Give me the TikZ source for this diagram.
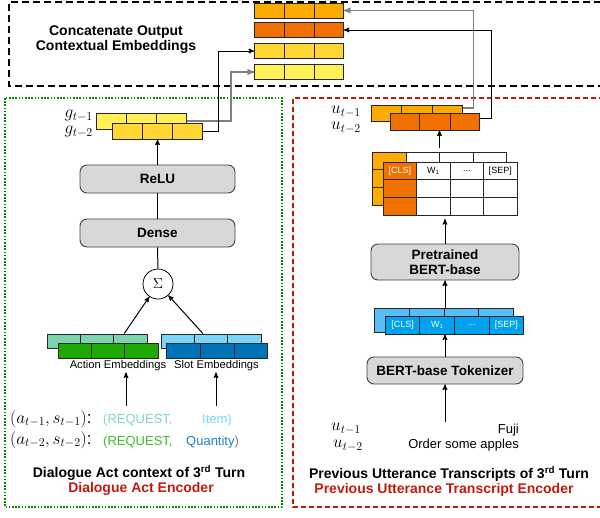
\documentclass[tikz,border=0pt]{standalone}
\usepackage{amsfonts, amssymb, amsmath}
\usepackage[no-math]{fontspec}
\setmainfont{Liberation Sans}
\usepackage{tikz}
\usetikzlibrary{matrix,arrows}
\usetikzlibrary{calc}
\usetikzlibrary{shapes.multipart}
\definecolor{yorange}{RGB}{252,172,0}
\definecolor{dorange}{RGB}{240,112,0}
\definecolor{gold}{RGB}{255,214,51}
\definecolor{lyellow}{RGB}{255,241,84}
\definecolor{mint}{RGB}{124,212,172}
\definecolor{dgreen}{RGB}{30,170,0}
\definecolor{lblue}{RGB}{122,212,252}
\definecolor{dblue}{RGB}{0,114,182}
\definecolor{tokback}{RGB}{88,190,246}
\definecolor{tokfront}{RGB}{0,162,240}
\definecolor{boxgray}{RGB}{216,216,216}
\definecolor{encred}{RGB}{196,26,14}
\definecolor{reqmint}{RGB}{130,214,178}
\definecolor{reqgreen}{RGB}{60,190,40}
\definecolor{itemblue}{RGB}{120,212,250}
\definecolor{qblue}{RGB}{30,128,200}
\tikzset{blk/.style={draw=black!75, fill=boxgray, rounded corners=7pt, line width=0.9pt, font=\fontsize{13.5}{14.5}\selectfont\bfseries, align=center}}
\tikzset{bar/.style={draw=black!85, line width=0.9pt, rectangle split, rectangle split horizontal, rectangle split parts=#1, inner sep=0pt}}
\tikzset{cell/.style={draw=black!85, line width=0.9pt, minimum width=33.5pt, minimum height=17.7pt, inner sep=0pt, anchor=center, font=\fontsize{9}{9}\selectfont}}
\tikzset{ttl/.style={font=\fontsize{14}{15}\selectfont\bfseries, inner sep=1pt}}
\tikzset{l/.style={font=\fontsize{11.2}{12}\selectfont, inner sep=1pt}}
\tikzset{m/.style={font=\fontsize{13}{14}\selectfont, inner sep=1pt}}
\tikzset{mth/.style={font=\fontsize{17}{17}\selectfont, inner sep=0pt}}
\tikzset{ar/.style={->, line width=1pt}}
\tikzset{gar/.style={->, line width=1.4pt, gray}}
\newcommand{\tricells}[1]{\makebox[#1pt]{}\nodepart{two}\makebox[#1pt]{}\nodepart{three}\makebox[#1pt]{}}

\begin{document}
\begin{tikzpicture}[x=1pt,y=-1pt,>=stealth']
            \useasboundingbox (0,0) rectangle (600,517);
            % frames
            \draw[line width=2pt, dash pattern=on 7pt off 4pt] (612,2) -- (9,2) -- (9,86) -- (612,86);
            \draw[green!55!black, line width=1.6pt, dash pattern=on 1.6pt off 1.6pt] (5,98) rectangle (282,507);
            \draw[encred, line width=1.8pt, dash pattern=on 5pt off 3pt] (612,98) -- (293,98) -- (293,507) -- (612,507);
            \node[ttl, align=center] (cat) at (116,40) {Concatenate Output\\Contextual Embeddings};
            % concatenated outputs
            \node[bar=3, fill=yorange, minimum height=15pt] (c1) at (299,10.5) {\tricells{29}};
            \node[bar=3, fill=dorange, minimum height=15pt] (c2) at (299,30) {\tricells{29}};
            \node[bar=3, fill=gold, minimum height=15pt] (c3) at (299,51) {\tricells{29}};
            \node[bar=3, fill=lyellow, minimum height=15pt] (c4) at (299,72) {\tricells{29}};
            % dialogue act encoder
            \node[bar=3, fill=lyellow, minimum height=16pt] (g1) at (141.5,121) {\tricells{29.5}};
            \node[bar=3, fill=gold, minimum height=16pt] (g2) at (157.5,131) {\tricells{29.5}};
            \node[mth, anchor=east] (g1lbl) at (93,116) {$g_{t-1}$};
            \node[mth, anchor=east] (g2lbl) at (93,132) {$g_{t-2}$};
            \node[blk, minimum width=155pt, minimum height=28pt] (relu) at (157.5,179) {ReLU};
            \node[blk, minimum width=155pt, minimum height=28pt] (dense) at (157.5,233) {Dense};
            \node[draw, circle, minimum size=30pt, inner sep=0pt, line width=0.8pt, font=\fontsize{15}{15}\selectfont] (sum) at (158,284) {$\Sigma$};
            \node[bar=3, fill=mint, minimum height=14pt] (ab) at (97,341) {\tricells{32.7}};
            \node[bar=3, fill=dgreen, minimum height=15pt] (af) at (108,350.5) {\tricells{32.7}};
            \node[bar=3, fill=lblue, minimum height=14pt] (sb) at (211,341) {\tricells{32.7}};
            \node[bar=3, fill=dblue, minimum height=15pt] (sf) at (217,350.5) {\tricells{33.2}};
            \node[l] (actlbl) at (118,366) {Action Embeddings};
            \node[l] (slotlbl) at (216.5,366) {Slot Embeddings};
            \draw[ar] (relu.north) -- (relu.north |- g2.south);
            \draw[line width=1pt] (dense) -- (relu);
            \draw[line width=1pt] (sum) -- (dense);
            \draw[ar] ($(ab.north west)!0.77!(ab.north east)$) -- (sum);
            \draw[ar] ($(sb.north west)!0.42!(sb.north east)$) -- (sum);
            \coordinate (actin) at (126,406);
            \coordinate (slotin) at (216,406);
            \draw[ar] (actin) -- (actin |- actlbl.south);
            \draw[ar] (slotin) -- (slotin |- slotlbl.south);
            \node[mth, anchor=west] (as1) at (10,419) {$(a_{t-1},s_{t-1})$:};
            \node[mth, anchor=west] (as2) at (10,440) {$(a_{t-2},s_{t-2})$:};
            \node[m, text=reqmint, anchor=west] (req1) at (102,420) {(REQUEST,};
            \node[m, text=itemblue, anchor=west] (item) at (201,420) {Item)};
            \node[m, text=reqgreen, anchor=west] (req2) at (102,442) {(REQUEST,};
            \node[m, text=qblue, anchor=west] (qty) at (185,442) {Quantity{\color{gray})}};
            \node[ttl] (dact) at (139,473) {Dialogue Act context of 3\textsuperscript{rd} Turn};
            \node[ttl, text=encred] (denc) at (141,489) {Dialogue Act Encoder};
            % utterance encoder
            \node[bar=3, fill=yorange, minimum height=16pt] (u1) at (417,113) {\tricells{30}};
            \node[bar=3, fill=dorange, minimum height=17pt] (u2) at (435,121.5) {\tricells{29.3}};
            \node[mth, anchor=east] (u1lbl) at (361,112) {$u_{t-1}$};
            \node[mth, anchor=east] (u2lbl) at (361,128) {$u_{t-2}$};
            \matrix (tabb) at (439.5,178.5) [matrix of nodes, nodes in empty cells, nodes={cell, fill=white}, column sep=-0.9pt, row sep=-0.9pt] {
              |[fill=yorange]| & & & \\
              |[fill=yorange]| & & & \\
              |[fill=yorange]| & & & \\
            };
            \matrix (tab) at (450,188.5) [matrix of nodes, nodes in empty cells, nodes={cell, fill=white}, column sep=-0.9pt, row sep=-0.9pt] {
              |[fill=dorange, text=white]| {[CLS]} & W\textsubscript{1} & ... & {[SEP]} \\
              |[fill=dorange]| & & & \\
              |[fill=dorange]| & & & \\
            };
            \node[blk, minimum width=148pt, minimum height=36pt] (bert) at (445,262) {Pretrained\\BERT-base};
            \node[bar=4, fill=tokback, minimum height=24pt] (tb) at (444,320) {\makebox[34pt]{}\nodepart{two}\makebox[34pt]{}\nodepart{three}\makebox[34pt]{}\nodepart{four}\makebox[34pt]{}};
            \node[bar=4, fill=tokfront, minimum height=18pt, text=white, font=\fontsize{9}{9}\selectfont] (tf) at (454.5,325) {\makebox[33.7pt]{[CLS]}\nodepart{two}\makebox[33.7pt]{W\textsubscript{1}}\nodepart{three}\makebox[33.7pt]{...}\nodepart{four}\makebox[33.7pt]{[SEP]}};
            \node[blk, minimum width=156pt, minimum height=27pt] (tok) at (445,370.5) {BERT-base Tokenizer};
            \coordinate (uttin) at (445,422);
            \draw[ar] (uttin) -- (tok.south);
            \draw[ar] (tok.north) -- (tok.north |- tf.south);
            \draw[ar] (bert.south |- tb.north) -- (bert.south);
            \draw[ar] (bert.north) -- (bert.north |- tab.south);
            \draw[ar] (tabb.north) -- (tabb.north |- u2.south);
            \node[mth, anchor=east] (u1in) at (361,429) {$u_{t-1}$};
            \node[mth, anchor=east] (u2in) at (363,446) {$u_{t-2}$};
            \node[m, anchor=east] (fuji) at (520,430) {Fuji};
            \node[m, anchor=east] (order) at (520,445) {Order some apples};
            \node[ttl] (putt) at (449,474) {Previous Utterance Transcripts of 3\textsuperscript{rd} Turn};
            \node[ttl, text=encred] (penc) at (444,490) {Previous Utterance Transcript Encoder};
            % into the concatenation
            \draw[gar] (g1.east) -- ++(44,0) |- (c4.west);
            \draw[ar] (g2.east) -- ++(15,0) |- (c3.west);
            \draw[gar] ($(u1.north east)!.2!(u1.south east)$) -- ++(10,0) |- (c1.east);
            \draw[ar] ($(u2.north east)!.35!(u2.south east)$) -- ++(11,0) |- (c2.east);
          \end{tikzpicture}
\end{document}
